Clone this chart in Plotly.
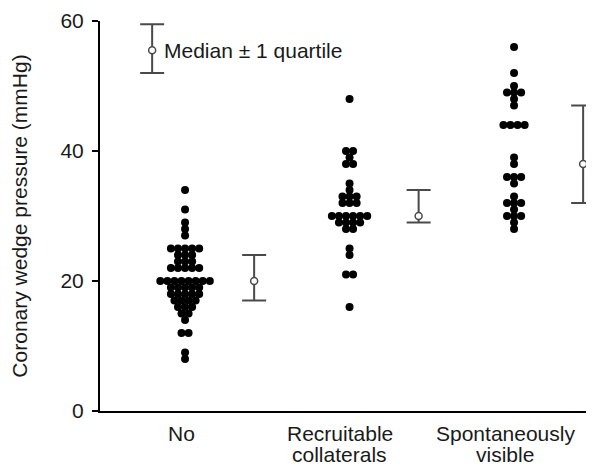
import plotly.graph_objects as go
import numpy as np

# ---- data ----
category_lines = [["No"], ["Recruitable", "collaterals"], ["Spontaneously", "visible"]]

no_collateral = [34, 31, 29, 28, 27,
                 25, 25, 25, 25, 25,
                 24, 24, 24,
                 23, 23, 23,
                 22, 22, 22, 22, 22,
                 20, 20, 20, 20, 20, 20, 20, 20,
                 19, 19, 19, 19, 19,
                 18, 18, 18, 18, 18,
                 17, 17, 17, 17,
                 16, 16, 16,
                 15, 15,
                 14,
                 12, 12,
                 9, 8]
recruitable = [48,
               40, 40, 39, 38, 38,
               35, 34,
               33, 33, 33,
               32, 32, 32,
               30, 30, 30, 30, 30, 30,
               29, 29, 29, 29,
               28, 28,
               25, 24,
               21, 21,
               16]
spontaneous = [56, 52, 50,
               49, 49, 49,
               48, 47,
               44, 44, 44, 44,
               39, 38,
               36, 36, 36, 35,
               33, 32, 32, 32, 31,
               30, 30, 30, 29, 28]
groups = [no_collateral, recruitable, spontaneous]

medians = [20, 30, 38]
q_low = [17, 29, 32]
q_high = [24, 34, 47]

legend_stat = {"median": 55.5, "low": 52, "high": 59.5}
legend_text = "Median ± 1 quartile"

y_ticks = [0, 20, 40, 60]
y_title = "Coronary wedge pressure (mmHg)"

# ---- layout helpers ----
group_x = [1, 2, 3]
bar_offset = 0.42
label_x = [0.98, 1.94, 2.945]
line_shift = [-22, -43]
dot_dx = 0.043
legend_x = 0.80

FONT = "Liberation Sans, Arial, sans-serif"
FS = 21
TXT = "#1a1a1a"
BAR = "#4a4a4a"

fig = go.Figure()

for gx, vals in zip(group_x, groups):
    vals = np.array(vals)
    xs, ys = [], []
    for v in sorted(set(vals.tolist()), reverse=True):
        n = int((vals == v).sum())
        for i in range(n):
            xs.append(gx + (i - (n - 1) / 2) * dot_dx)
            ys.append(v)
    fig.add_trace(go.Scatter(x=xs, y=ys, mode="markers",
                             marker=dict(size=8, color="black"),
                             showlegend=False, hoverinfo="y", cliponaxis=False))

bar_x = [g + bar_offset for g in group_x]
fig.add_trace(go.Scatter(
    x=bar_x, y=medians, mode="markers", cliponaxis=False,
    marker=dict(size=7, color="white", line=dict(color=BAR, width=1.5)),
    error_y=dict(type="data", symmetric=False,
                 array=[h - m for h, m in zip(q_high, medians)],
                 arrayminus=[m - l for l, m in zip(q_low, medians)],
                 color=BAR, thickness=2, width=12),
    showlegend=False))

fig.add_trace(go.Scatter(
    x=[legend_x], y=[legend_stat["median"]], mode="markers", cliponaxis=False,
    marker=dict(size=7, color="white", line=dict(color=BAR, width=1.5)),
    error_y=dict(type="data", symmetric=False,
                 array=[legend_stat["high"] - legend_stat["median"]],
                 arrayminus=[legend_stat["median"] - legend_stat["low"]],
                 color=BAR, thickness=2, width=12),
    showlegend=False))

fig.add_annotation(x=legend_x + 0.06, y=legend_stat["median"], text=legend_text,
                   showarrow=False, xanchor="left", yanchor="middle",
                   font=dict(family=FONT, size=FS, color=TXT))

for lx, lines in zip(label_x, category_lines):
    for k, line in enumerate(lines):
        fig.add_annotation(x=lx, xref="x", y=0, yref="paper", text=line,
                           showarrow=False, xanchor="center", yanchor="middle",
                           yshift=line_shift[k],
                           font=dict(family=FONT, size=FS, color=TXT))

# the page body adds an 8 px offset, so the figure is 8 px smaller than the window
fig.update_layout(
    width=586, height=458,
    margin=dict(l=92, r=0, t=13, b=55),
    plot_bgcolor="white", paper_bgcolor="white",
    font=dict(family=FONT, size=FS, color=TXT),
    xaxis=dict(range=[0.483, 3.486], showgrid=False, zeroline=False,
               showline=True, linecolor="black", linewidth=2,
               showticklabels=False, ticks=""),
    yaxis=dict(range=[0, 60], showgrid=False, zeroline=False,
               showline=True, linecolor="black", linewidth=2,
               tickvals=y_ticks, ticks="outside", ticklen=6, tickwidth=1.5,
               tickcolor="black", tickfont=dict(size=FS, color=TXT),
               ticklabelstandoff=4, automargin=False,
               title=dict(text=y_title, font=dict(size=FS, color=TXT), standoff=30)),
)

fig.write_html("out.html")
